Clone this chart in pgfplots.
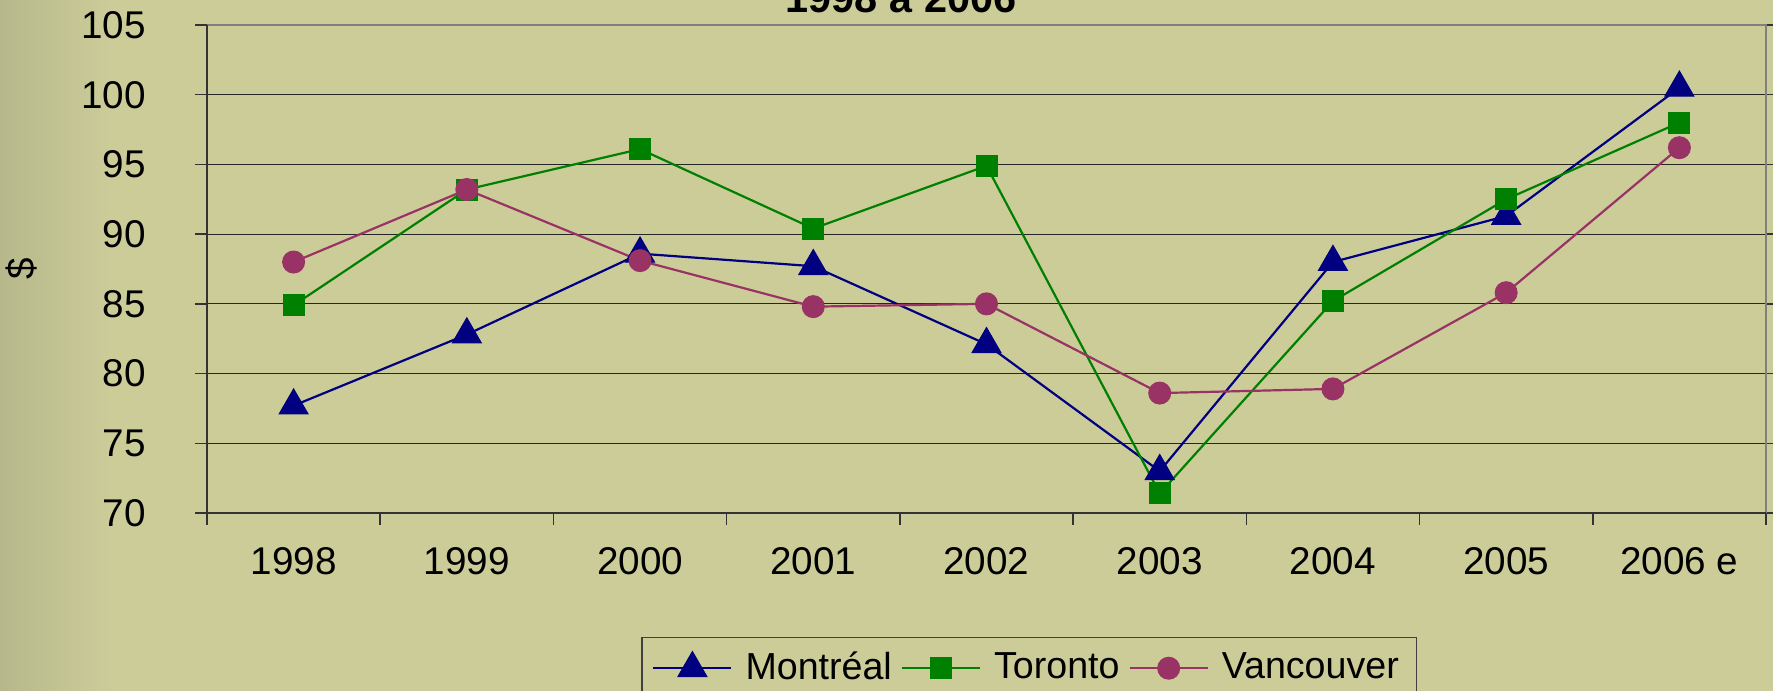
\documentclass[border=0pt]{standalone}
\usepackage{fontspec}
\setmainfont{Liberation Sans}
\usepackage{pgfplots}
\pgfplotsset{compat=1.18}
\definecolor{bg}{RGB}{204,204,153}
\definecolor{bgdark}{RGB}{182,184,140}
\definecolor{mtl}{RGB}{0,0,128}
\definecolor{tor}{RGB}{0,128,0}
\definecolor{van}{RGB}{153,51,102}
\begin{document}
\begin{tikzpicture}
\path[use as bounding box, fill=bg] (0,0) rectangle (177.3mm,69.1mm);
\shade[left color=bgdark, right color=bg] (0,0) rectangle (11mm,69.1mm);
\node[font=\bfseries\fontsize{11.8}{14}\selectfont, anchor=base, inner sep=0pt] at (90.1mm,67.8mm) {1998 à 2006};
\begin{axis}[
  at={(20.7mm,17.8mm)}, anchor=south west, scale only axis,
  width=155.9mm, height=48.8mm,
  xmin=-0.5, xmax=8.5, ymin=70, ymax=105,
  xtick={0,...,8},
  xticklabels={1998,1999,2000,2001,2002,2003,2004,2005,2006 e},
  ytick={70,75,...,105},
  tick align=outside, major tick length=1.2mm,
  xtick style={draw=none},
  ytick style={draw=black!80, line width=0.15mm},
  ymajorgrids, grid style={black!85, line width=0.12mm},
  axis line style={draw=none},
  tick label style={font=\fontsize{11}{13}\selectfont},
  /pgf/number format/assume math mode=true,
  yticklabel style={xshift=-3.7mm},
  xticklabel style={yshift=-1mm},
  ylabel={\$},
  ylabel style={at={(axis description cs:-0.1187,0.5)}, anchor=center, font=\fontsize{11}{13}\selectfont},
  axis background/.style={fill=bg},
  clip=false,
  legend columns=-1,
  legend style={at={(0.2784,-0.254)}, anchor=north west, draw=black!75, fill=bg,
    font=\fontsize{10.7}{13}\selectfont, line width=0.15mm,
    /tikz/every odd column/.append style={column sep=0.6mm},
    /tikz/every even column/.append style={column sep=0.2mm}},
  legend image code/.code={\draw[mark repeat=2,mark phase=2,#1] plot coordinates {(0cm,0cm) (0.39cm,0cm) (0.78cm,0cm)};},
]
\addplot[mtl, line width=0.22mm, mark=triangle*, mark size=1.67mm, mark options={fill=mtl, draw=mtl, line width=0.1mm}]
 coordinates {(0,77.7) (1,82.8) (2,88.6) (3,87.7) (4,82.1) (5,73.0) (6,88.0) (7,91.3) (8,100.5)};
\addlegendentry{Montréal}
\addplot[tor, line width=0.22mm, mark=square*, mark size=1.05mm, mark options={fill=tor, draw=tor, line width=0.1mm}]
 coordinates {(0,84.9) (1,93.2) (2,96.1) (3,90.4) (4,94.9) (5,71.4) (6,85.2) (7,92.5) (8,98.0)};
\addlegendentry{Toronto}
\addplot[van, line width=0.22mm, mark=*, mark size=1.1mm, mark options={fill=van, draw=van, line width=0.1mm}]
 coordinates {(0,88.0) (1,93.2) (2,88.1) (3,84.8) (4,85.0) (5,78.6) (6,78.9) (7,85.8) (8,96.2)};
\addlegendentry{Vancouver}
\draw[gray, line width=0.25mm] (rel axis cs:0,1) -- (rel axis cs:1,1) -- (rel axis cs:1,0);
\draw[black!80, line width=0.2mm] (rel axis cs:0,1) -- (rel axis cs:0,0) -- (rel axis cs:1,0);
\pgfplotsinvokeforeach{-0.5,0.5,1.5,2.5,3.5,4.5,5.5,6.5,7.5,8.5}{
  \draw[black!80, line width=0.15mm] (axis cs:#1,70) -- ([yshift=-1.2mm]axis cs:#1,70);
}
\end{axis}
\end{tikzpicture}
\end{document}
